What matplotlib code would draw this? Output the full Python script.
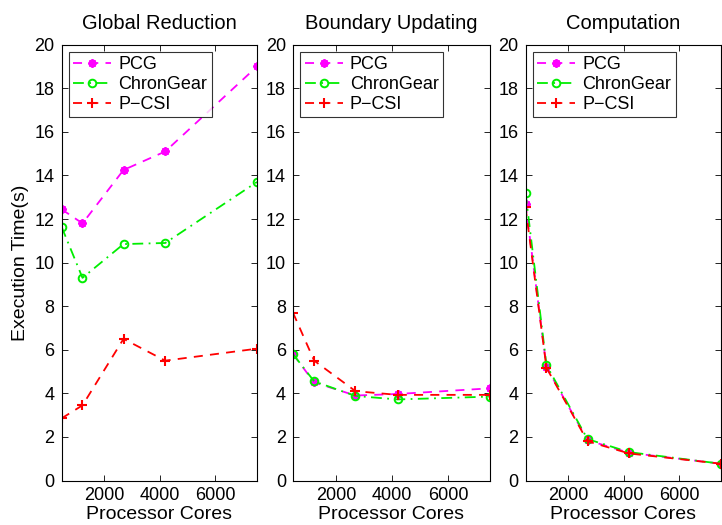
import matplotlib
matplotlib.use("Agg")
import matplotlib.pyplot as plt

cores = [470, 1225, 2700, 4200, 7500]
titles = ["Global Reduction", "Boundary Updating", "Computation"]
series_names = ["PCG", "ChronGear", "P\u2212CSI"]

pcg = [
    [12.45, 11.8, 14.25, 15.1, 19.0],
    [5.8, 4.5, 3.9, 3.97, 4.23],
    [12.7, 5.2, 1.85, 1.27, 0.77],
]
chrongear = [
    [11.65, 9.3, 10.85, 10.9, 13.7],
    [5.8, 4.55, 3.88, 3.72, 3.85],
    [13.2, 5.29, 1.9, 1.3, 0.77],
]
pcsi = [
    [2.85, 3.45, 6.5, 5.5, 6.05],
    [7.7, 5.5, 4.1, 3.93, 3.93],
    [12.55, 5.17, 1.8, 1.24, 0.77],
]

yticks = [0, 2, 4, 6, 8, 10, 12, 14, 16, 18, 20]
xticks = [2000, 4000, 6000]

plt.rcParams['font.family'] = ['Liberation Sans', 'DejaVu Sans']

fig = plt.figure(figsize=(7.22, 5.25), dpi=100)
W, H = 722, 525
boxes = [(61.5, 257), (293, 490), (525.5, 721)]
top, bottom = 44.7, 480.5

styles = [
    dict(color='#ff00ff', linestyle=(0, (5, 4)), marker=(8, 2, 0), markersize=6, markeredgewidth=1.5),
    dict(color='#00ee00', linestyle=(0, (6, 3, 1, 3)), marker='o', markersize=5.5, markerfacecolor='none', markeredgewidth=1.4),
    dict(color='#ff0000', linestyle=(0, (5, 4)), marker='+', markersize=7, markeredgewidth=1.5),
]

for i, (l, r) in enumerate(boxes):
    ax = fig.add_axes([l / W, 1 - bottom / H, (r - l) / W, (bottom - top) / H])
    data = [pcg[i], chrongear[i], pcsi[i]]
    for name, ys, st in zip(series_names, data, styles):
        ax.plot(cores, ys, label=name, linewidth=1.3, **st)
    ax.set_xlim(cores[0], cores[-1])
    ax.set_ylim(0, 20)
    ax.set_yticks(yticks)
    ax.set_xticks(xticks)
    ax.tick_params(direction='in', top=True, right=True, labelsize=13, length=4, width=0.6, pad=5)
    for s in ax.spines.values():
        s.set_linewidth(0.8)
    ax.set_title(titles[i], fontsize=14.5, pad=11)
    ax.set_xlabel("Processor Cores", fontsize=14, labelpad=1)
    if i == 0:
        ax.set_ylabel("Execution Time(s)", fontsize=14, labelpad=4)
    leg = ax.legend(loc='upper left', fontsize=13, frameon=True, fancybox=False,
                    edgecolor='black', borderpad=0.25, handlelength=2.1, labelspacing=0.15,
                    handletextpad=0.4, borderaxespad=0.4)
    leg.get_frame().set_linewidth(0.8)

fig.savefig("out.png", dpi=100)
